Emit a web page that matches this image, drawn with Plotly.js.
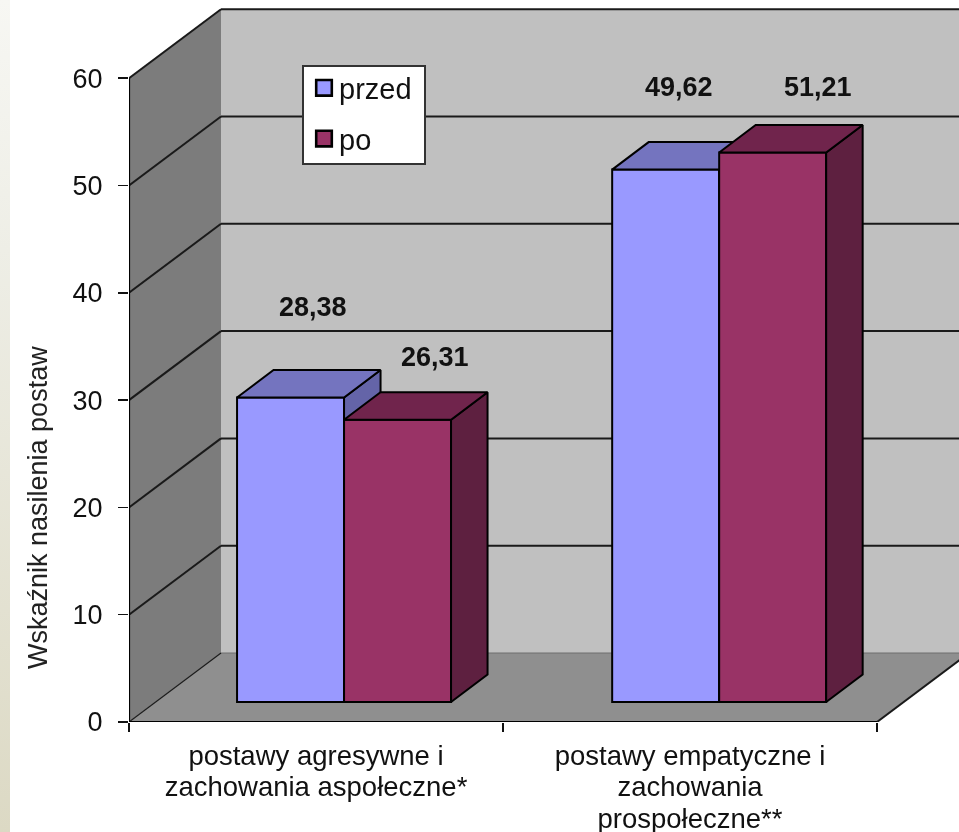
<!DOCTYPE html>
<html>
<head>
<meta charset="utf-8">
<script src="https://cdn.plot.ly/plotly-3.0.1.min.js"></script>
<style>
html,body{margin:0;padding:0;background:#fff;overflow:hidden}
#strip{position:absolute;left:0;top:0;width:10px;height:832px;background:linear-gradient(#f7f7f3,#eeeee6 30%,#dcd9c4);z-index:5}
#chart{position:absolute;left:0;top:0;width:959px;height:832px;filter:blur(0.5px)}
</style>
</head>
<body>
<div id="strip"></div>
<div id="chart"></div>
<script>
const categories = ["postawy agresywne i<br>zachowania aspołeczne*", "postawy empatyczne i<br>zachowania<br>prospołeczne**"];
const seriesNames = ["przed", "po"];
const przed = [28.38, 49.62];
const po = [26.31, 51.21];
const yTicks = [0, 10, 20, 30, 40, 50, 60];

const groupCentres = [0.575, 1.578];
const labelX = [[0.492, 1.47], [0.818, 1.842]];
const labelY = [[38.7, 59.2], [34.05, 59.2]];

const PXX = 374, PXY = 10.73;
const W = 959, H = 832, ML = 129, MB = 110;
const xMax = (W - ML) / PXX, yMax = (H - MB) / PXY;
const wallDx = 92 / PXX, wallDy = 69 / PXY;
const base = 20 / PXY, barW = 107 / PXX, barDx = 36.5 / PXX, barDy = 27.5 / PXY;
const INK = "#1a1a1a";

function poly(pts, fill) {
  return {type: "path", xref: "x", yref: "y", layer: "below", fillcolor: fill, line: {width: 0},
    path: "M" + pts.map(p => p[0] + "," + p[1]).join("L") + "Z"};
}
function seg(x0, y0, x1, y1, w, c) {
  return {type: "line", xref: "x", yref: "y", layer: "below", x0, y0, x1, y1, line: {color: c || INK, width: w}};
}
const shapes = [
  poly([[wallDx, wallDy], [xMax + 1, wallDy], [xMax + 1, 60 + wallDy], [wallDx, 60 + wallDy]], "#c0c0c0"),
  poly([[0, 0], [wallDx, wallDy], [wallDx, 60 + wallDy], [0, 60]], "#7c7c7c"),
  poly([[0, 0], [2, 0], [2 + wallDx, wallDy], [wallDx, wallDy]], "#8f8f8f"),
  seg(wallDx, 0 + wallDy, xMax, wallDy, 1, "#6e6e6e"),
  seg(0, 0, wallDx, wallDy, 1.2),
  seg(2, 0, 2 + wallDx, wallDy, 2)
];
yTicks.slice(1).forEach(t => {
  shapes.push(seg(0, t, wallDx, t + wallDy, 2));
  shapes.push(seg(wallDx, t + wallDy, xMax, t + wallDy, 2));
});

function faces(values, off, sideCol, topCol, xa, ya) {
  const side = {x: [], y: []}, top = {x: [], y: []};
  values.forEach((v, i) => {
    const c = groupCentres[i] + off, l = c - barW / 2, r = c + barW / 2, t = base + v;
    side.x.push(r, r + barDx, r + barDx, r, r, null);
    side.y.push(base, base + barDy, t + barDy, t, base, null);
    top.x.push(l, l + barDx, r + barDx, r, l, null);
    top.y.push(t, t + barDy, t + barDy, t, t, null);
  });
  const mk = (d, col) => ({type: "scatter", mode: "lines", x: d.x, y: d.y, fill: "toself", fillcolor: col,
    line: {color: "#000", width: 2}, hoverinfo: "skip", showlegend: false, xaxis: xa, yaxis: ya});
  return [mk(side, sideCol), mk(top, topCol)];
}
function bar(name, values, off, col, xa, ya) {
  return {type: "bar", name, legendgroup: name, x: groupCentres.map(c => c + off), y: values,
    base: values.map(() => base), width: barW, marker: {color: col, line: {color: "#000", width: 2}},
    xaxis: xa, yaxis: ya};
}
const axisLines = {type: "scatter", mode: "lines", x: [0, 0, null, 0, 2], y: [60, 0, null, 0, 0],
  line: {color: "#000", width: 2.2}, hoverinfo: "skip", showlegend: false, cliponaxis: false};

const data = [
  axisLines,
  bar(seriesNames[0], przed, -barW / 2, "#9999ff", "x", "y"),
  ...faces(przed, -barW / 2, "#6464a8", "#7474bf", "x", "y"),
  bar(seriesNames[1], po, barW / 2, "#993366", "x2", "y2"),
  ...faces(po, barW / 2, "#5e2040", "#70244c", "x2", "y2")
];

const fmt = v => v.toFixed(2).replace(".", ",");
const annotations = [];
[przed, po].forEach((s, k) => s.forEach((v, i) => annotations.push({
  xref: "x", yref: "y", x: labelX[k][i], y: labelY[k][i], text: "<b>" + fmt(v) + "</b>", showarrow: false,
  font: {size: 27, color: "#111"}
})));
annotations.push({xref: "paper", yref: "paper", x: (38 - ML) / (W - ML), y: (722 - 508) / 722,
  xanchor: "center", yanchor: "middle",
  text: "Wskaźnik nasilenia postaw", textangle: -90, showarrow: false, font: {size: 27, color: "#222"}});

const layout = {
  width: W, height: H, margin: {l: ML, r: 0, t: 0, b: MB, pad: 0},
  paper_bgcolor: "rgba(0,0,0,0)", plot_bgcolor: "#fff",
  font: {family: "Liberation Sans, Arial, sans-serif", color: "#111"},
  barmode: "overlay", hovermode: false, shapes, annotations,
  xaxis: {range: [0, xMax], showgrid: false, zeroline: false, showline: false,
    tickmode: "array", tickvals: [0.5, 1.5], ticktext: categories, ticks: "", tickfont: {size: 27.5, color: "#111"},
    ticklabelstandoff: 14,
    minor: {tickmode: "array", tickvals: [0, 1, 2], ticks: "outside", ticklen: 9, tickwidth: 1.5, tickcolor: "#111", showgrid: false}},
  yaxis: {range: [0, yMax], showgrid: false, zeroline: false, showline: false,
    tickmode: "array", tickvals: yTicks, ticktext: yTicks.map(String), ticks: "outside", ticklen: 10, tickwidth: 1.5, tickcolor: "#111",
    tickfont: {size: 27, color: "#111"}, ticklabelstandoff: 10},
  xaxis2: {overlaying: "x", anchor: "y2", matches: "x", visible: false},
  yaxis2: {overlaying: "y", anchor: "x2", matches: "y", visible: false},
  showlegend: true,
  legend: {x: (302 - ML) / (W - ML), y: 1 - 64.5 / 722, xanchor: "left", yanchor: "top", bgcolor: "#fff",
    bordercolor: "#333", borderwidth: 2, font: {size: 29, color: "#111"}, tracegroupgap: 10,
    entrywidth: 88, entrywidthmode: "pixels", itemclick: false, itemdoubleclick: false}
};
Plotly.newPlot("chart", data, layout, {displayModeBar: false, staticPlot: true}).then(gd => {
  gd.querySelectorAll(".xtick text").forEach(t => {
    t.querySelectorAll("tspan.line").forEach((s, n) => s.setAttribute("dy", (n * 31.5) + "px"));
  });
  gd.querySelectorAll(".legendpoints path").forEach(p => {
    p.setAttribute("transform", (p.getAttribute("transform") || "") + " scale(1.3)");
  });
  gd.querySelectorAll(".legendtext").forEach(t => {
    t.setAttribute("x", parseFloat(t.getAttribute("x")) - 5);
  });
  const bg = gd.querySelector(".legend .bg");
  if (bg) { bg.setAttribute("height", 98); bg.setAttribute("width", 122); }
  const sb = gd.querySelector(".legend .scrollbox");
  const clip = gd.querySelector(".legend");
  gd.querySelectorAll(".legend .groups").forEach(g => {
    const m = /translate\(([-\d.]+)[ ,]*([-\d.]*)\)/.exec(g.getAttribute("transform") || "");
    const x = m ? parseFloat(m[1]) : 0, y = m && m[2] ? parseFloat(m[2]) : 0;
    g.setAttribute("transform", "translate(" + x + "," + (y - 4) + ")");
  });
});
</script>
</body>
</html>
